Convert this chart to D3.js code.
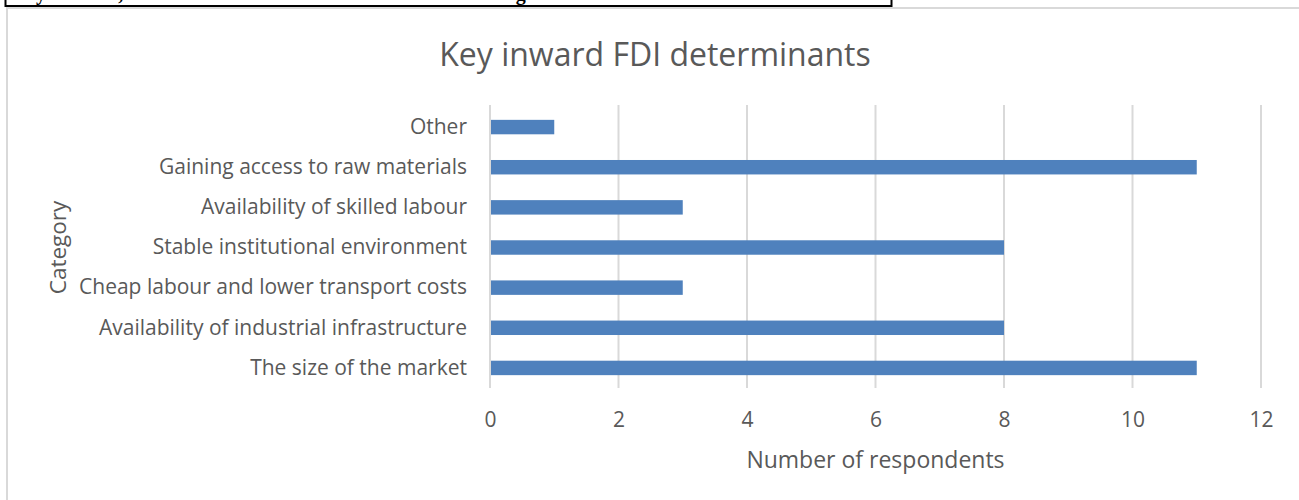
<!DOCTYPE html>
<html>
<head>
<meta charset="utf-8">
<script src="https://cdn.jsdelivr.net/npm/d3@7"></script>
<style>
  body { margin: 0; background: #fff; }
  svg { display: block; }
  text { font-family: "Open Sans", sans-serif; fill: #595959; }
</style>
</head>
<body>
<div id="chart"></div>
<script>
// data
const categories = [
  "Other",
  "Gaining access to raw materials",
  "Availability of skilled labour",
  "Stable institutional environment",
  "Cheap labour and lower transport costs",
  "Availability of industrial infrastructure",
  "The size of the market"
];
const respondents = [1, 11, 3, 8, 3, 8, 11];
const xTicks = [0, 2, 4, 6, 8, 10, 12];

const width = 1299, height = 500;
const margin = { left: 490, right: 38, top: 107, bottom: 112 };

const svg = d3.select("#chart").append("svg")
  .attr("width", width)
  .attr("height", height);

// cut-off question box above the chart
svg.append("rect")
  .attr("x", 5.5).attr("y", -20)
  .attr("width", 886).attr("height", 26)
  .attr("fill", "#fff").attr("stroke", "#000").attr("stroke-width", 2);
const clip = svg.append("clipPath").attr("id", "qclip");
clip.append("rect").attr("x", 6).attr("y", 0).attr("width", 884).attr("height", 5);
svg.append("text")
  .attr("clip-path", "url(#qclip)")
  .attr("x", 12).attr("y", 0)
  .style("font-family", "'Liberation Serif', serif")
  .style("font-weight", "bold")
  .style("font-size", "20px")
  .style("fill", "#000")
  .text("In your view, what are the factors that attract FDI to the region?");

// chart frame
svg.append("rect")
  .attr("x", 7).attr("y", 8)
  .attr("width", width + 10).attr("height", height + 10)
  .attr("fill", "none").attr("stroke", "#d9d9d9").attr("stroke-width", 2);

const x = d3.scaleLinear()
  .domain([0, 12])
  .range([margin.left, width - margin.right]);

const y = d3.scaleBand()
  .domain(categories)
  .range([margin.top, height - margin.bottom])
  .paddingInner(0.64)
  .paddingOuter(0.32);

// gridlines
svg.append("g")
  .selectAll("line")
  .data(xTicks)
  .join("line")
  .attr("x1", d => x(d)).attr("x2", d => x(d))
  .attr("y1", margin.top - 2).attr("y2", height - margin.bottom)
  .attr("stroke", "#d9d9d9").attr("stroke-width", 2);

// bars
svg.append("g")
  .selectAll("rect")
  .data(categories)
  .join("rect")
  .attr("x", x(0) + 1)
  .attr("y", d => y(d))
  .attr("width", (d, i) => x(respondents[i]) - x(0) - 1)
  .attr("height", y.bandwidth())
  .attr("fill", "#4f81bd");

// x axis labels
const xAxis = svg.append("g")
  .attr("transform", `translate(0,${height - margin.bottom})`)
  .call(d3.axisBottom(x).tickValues(xTicks).tickSize(0).tickPadding(24));
xAxis.select(".domain").remove();
xAxis.selectAll("text")
  .style("font-size", "21px")
  .style("fill", "#595959");

// y axis labels
const yAxis = svg.append("g")
  .attr("transform", `translate(${margin.left},0)`)
  .call(d3.axisLeft(y).tickSize(0).tickPadding(23));
yAxis.select(".domain").remove();
yAxis.selectAll("text")
  .style("font-size", "21px")
  .style("fill", "#595959");

// title
svg.append("text")
  .attr("x", 655).attr("y", 66)
  .attr("text-anchor", "middle")
  .style("font-size", "32px")
  .text("Key inward FDI determinants");

// axis titles
svg.append("text")
  .attr("x", (x(0) + x(12)) / 2).attr("y", 468)
  .attr("text-anchor", "middle")
  .style("font-size", "23px")
  .text("Number of respondents");

svg.append("text")
  .attr("transform", `translate(66,${(margin.top + height - margin.bottom) / 2}) rotate(-90)`)
  .attr("text-anchor", "middle")
  .style("font-size", "22.5px")
  .text("Category");
</script>
</body>
</html>
